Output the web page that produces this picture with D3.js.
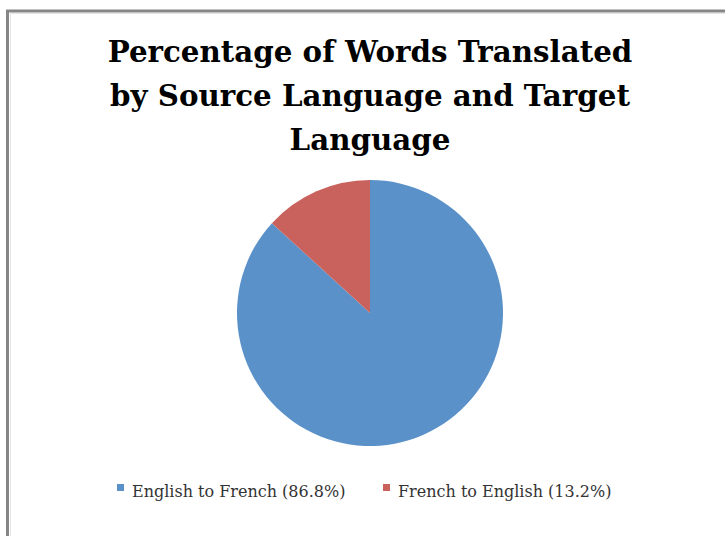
<!DOCTYPE html>
<meta charset='utf-8'>
<head>
<script src='https://d3js.org/d3.v7.min.js'></script>
<style>
  body{ margin: 0; background: #fff; }
  svg text{ font-family: 'DejaVu Serif', 'Liberation Serif', serif; }
</style>
</head>
<body>
<svg id="chart"></svg>
<script>

  var categories = ['English to French', 'French to English'];
  var values = [86.8, 13.2];
  var titleLines = ['Percentage of Words Translated', 'by Source Language and Target', 'Language'];
  var colors = ['#5b91c9', '#c9625c'];

  var width = 725, height = 536;

  var svg = d3.select('#chart')
      .attr('width', width)
      .attr('height', height);

  svg.append('rect')
      .attr('width', width).attr('height', height)
      .attr('fill', '#fff');

  // Frame (only top and left sides visible)
  svg.append('path')
      .attr('d', 'M7.5,' + height + 'V11H' + width)
      .attr('fill', 'none')
      .attr('stroke', '#868686')
      .attr('stroke-width', 3);
  svg.append('path')
      .attr('d', 'M10.5,' + height + 'V13.5H' + width)
      .attr('fill', 'none')
      .attr('stroke', '#e4e4e4')
      .attr('stroke-width', 1);

  // Title
  svg.append('g').selectAll('text')
      .data(titleLines)
      .enter().append('text')
      .attr('x', 370)
      .attr('y', function(d, i) { return 62 + i * 44; })
      .attr('text-anchor', 'middle')
      .style('font-size', '29.3px')
      .style('font-weight', 'bold')
      .style('fill', '#000')
      .text(function(d) { return d; });

  // Pie
  var radius = 133;
  var data = categories.map(function(c, i) { return {name: c, value: values[i]}; });

  var pie = d3.pie().sort(null).value(function(d) { return d.value; });
  var arc = d3.arc().innerRadius(0).outerRadius(radius);
  var color = d3.scaleOrdinal().domain(categories).range(colors);

  var g = svg.append('g')
      .attr('transform', 'translate(370,313)');

  g.selectAll('path')
      .data(pie(data))
      .enter().append('path')
      .attr('d', arc)
      .attr('fill', function(d) { return color(d.data.name); });

  // Legend
  var fmt = d3.format('.1f');
  var legendX = [117, 383];
  var legend = svg.append('g').selectAll('.legend')
      .data(data)
      .enter().append('g')
      .attr('class', 'legend')
      .attr('transform', function(d, i) { return 'translate(' + legendX[i] + ',484)'; });

  legend.append('rect')
      .attr('width', 7).attr('height', 7)
      .attr('fill', function(d) { return color(d.name); });

  legend.append('text')
      .attr('x', 15)
      .attr('y', 13)
      .style('font-size', '16px')
      .style('fill', '#333')
      .text(function(d) { return d.name + ' (' + fmt(d.value) + '%)'; });

</script>
</body>
</html>
